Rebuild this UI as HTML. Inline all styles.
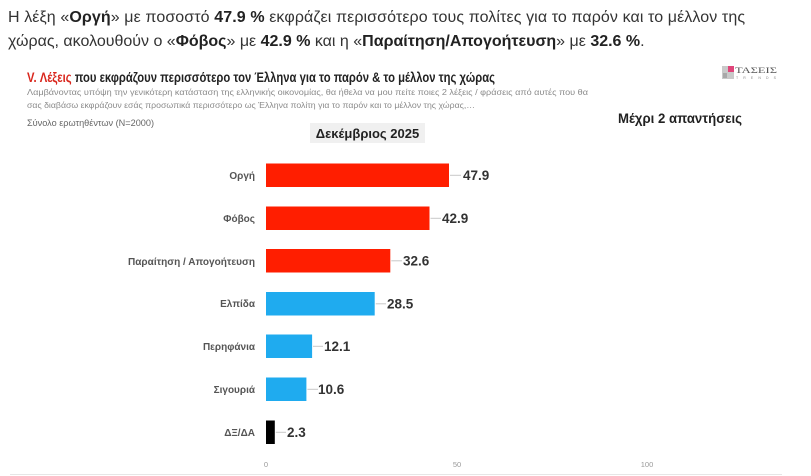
<!DOCTYPE html>
<html>
<head>
<meta charset="utf-8">
<style>
  html,body{margin:0;padding:0;background:#fff;}
  body{width:811px;height:476px;position:relative;overflow:hidden;font-family:"Liberation Sans",Arial,sans-serif;}
  .p{position:absolute;left:8px;font-size:16px;color:#333;white-space:nowrap;line-height:20px;}
  .p b{color:#222;}
  svg{position:absolute;left:0;top:0;}
</style>
</head>
<body>
<div class="p" style="top:8px;letter-spacing:0.1px;">Η λέξη «<b>Οργή</b>» με ποσοστό <b>47.9 %</b> εκφράζει περισσότερο τους πολίτες για το παρόν και το μέλλον της</div>
<div class="p" style="top:32px;">χώρας, ακολουθούν ο «<b>Φόβος</b>» με <b>42.9 %</b> και η «<b>Παραίτηση/Απογοήτευση</b>» με <b>32.6 %</b>.</div>

<svg width="811" height="476" viewBox="0 0 811 476" font-family="Liberation Sans, Arial, sans-serif">
  <!-- title -->
  <text x="27" y="82" font-size="13.5" font-weight="bold" fill="#222" textLength="468" lengthAdjust="spacingAndGlyphs"><tspan fill="#d9261c">V. Λέξεις</tspan> που εκφράζουν περισσότερο τον Έλληνα για το παρόν &amp; το μέλλον της χώρας</text>
  <text x="27" y="95" font-size="8.5" fill="#8a8a8a" textLength="561" lengthAdjust="spacingAndGlyphs">Λαμβάνοντας υπόψη την γενικότερη κατάσταση της ελληνικής οικονομίας, θα ήθελα να μου πείτε ποιες 2  λέξεις / φράσεις από αυτές που θα</text>
  <text x="27" y="108" font-size="8.5" fill="#8a8a8a" textLength="448" lengthAdjust="spacingAndGlyphs">σας διαβάσω εκφράζουν εσάς προσωπικά περισσότερο ως Έλληνα πολίτη για το παρόν και το μέλλον της χώρας,…</text>
  <text x="27" y="126" font-size="9" fill="#666" textLength="127" lengthAdjust="spacingAndGlyphs">Σύνολο ερωτηθέντων (N=2000)</text>

  <!-- logo -->
  <rect x="722" y="66" width="12" height="13" fill="#c9c9c9"/>
  <rect x="728" y="66" width="6" height="6" fill="#e0457a"/>
  <rect x="723" y="73" width="4" height="5" fill="#a8a8a8"/>
  <text x="735" y="73" font-size="8.5" font-family="Liberation Serif, serif" fill="#555" textLength="42" lengthAdjust="spacingAndGlyphs">ΤΑΣΕΙΣ</text>
  <text x="736" y="79" font-size="3.5" fill="#888" textLength="40" lengthAdjust="spacing">TRENDS</text>

  <!-- month box -->
  <rect x="310" y="123" width="115" height="20" fill="#f0f0f0"/>
  <text x="367.5" y="138" font-size="13" font-weight="bold" fill="#222" text-anchor="middle">Δεκέμβριος 2025</text>

  <text x="680" y="123" font-size="13.5" font-weight="bold" fill="#222" text-anchor="middle" textLength="124" lengthAdjust="spacingAndGlyphs">Μέχρι 2 απαντήσεις</text>

  <!-- category labels -->
  <g font-size="10" font-weight="bold" fill="#555" text-anchor="end">
    <text x="255" y="179">Οργή</text>
    <text x="255" y="222">Φόβος</text>
    <text x="255" y="265" textLength="127" lengthAdjust="spacingAndGlyphs">Παραίτηση / Απογοήτευση</text>
    <text x="255" y="307">Ελπίδα</text>
    <text x="255" y="350">Περηφάνια</text>
    <text x="255" y="393">Σιγουριά</text>
    <text x="255" y="436">ΔΞ/ΔΑ</text>
  </g>

  <rect x="266" y="163.5" width="183" height="23.5" fill="#ff1e00"/>
  <rect x="266" y="206.5" width="163.5" height="23.5" fill="#ff1e00"/>
  <rect x="266" y="249" width="124.3" height="23.5" fill="#ff1e00"/>
  <rect x="266" y="292" width="108.7" height="23.5" fill="#1fabef"/>
  <rect x="266" y="334.5" width="46.1" height="23.5" fill="#1fabef"/>
  <rect x="266" y="377.5" width="40.4" height="23.5" fill="#1fabef"/>
  <rect x="266" y="420.5" width="8.8" height="23.5" fill="#000"/>

  <g stroke="#c8c8c8" stroke-width="1">
    <line x1="450" y1="175.3" x2="461" y2="175.3"/>
    <line x1="430.5" y1="218.3" x2="441" y2="218.3"/>
    <line x1="391.3" y1="260.8" x2="402" y2="260.8"/>
    <line x1="375.7" y1="303.8" x2="386" y2="303.8"/>
    <line x1="313" y1="346.3" x2="323" y2="346.3"/>
    <line x1="307.4" y1="389.3" x2="318" y2="389.3"/>
    <line x1="275.8" y1="432.3" x2="286" y2="432.3"/>
  </g>

  <g font-size="13.5" font-weight="bold" fill="#333">
    <text x="463" y="180">47.9</text>
    <text x="442" y="223">42.9</text>
    <text x="403" y="265.5">32.6</text>
    <text x="387" y="308.5">28.5</text>
    <text x="324" y="351">12.1</text>
    <text x="318" y="394">10.6</text>
    <text x="287" y="437">2.3</text>
  </g>

  <!-- axis ticks -->
  <g font-size="7.5" fill="#999" text-anchor="middle">
    <text x="266" y="467">0</text>
    <text x="457" y="467">50</text>
    <text x="647" y="467">100</text>
  </g>

  <line x1="10" y1="474.5" x2="782" y2="474.5" stroke="#e6e6e6" stroke-width="1"/>
</svg>
</body>
</html>
